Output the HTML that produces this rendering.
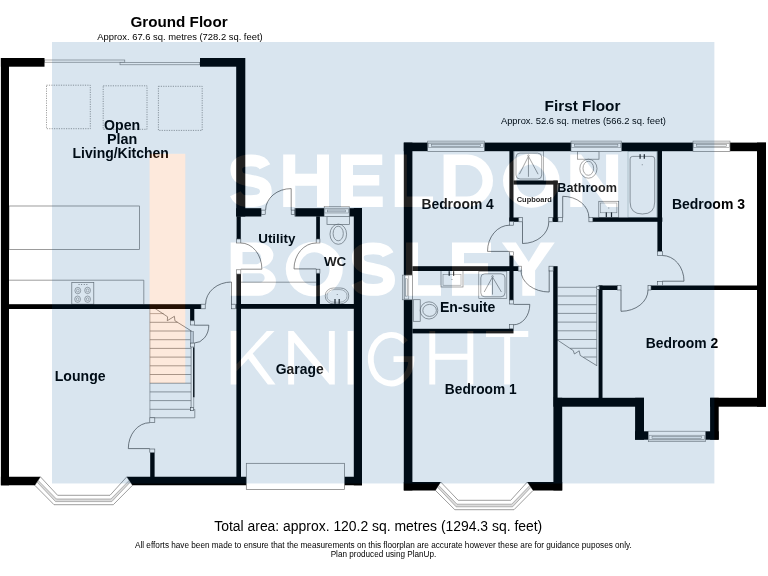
<!DOCTYPE html>
<html><head><meta charset="utf-8"><title>Floorplan</title>
<style>html,body{margin:0;padding:0;background:#fff;}body{width:768px;height:576px;overflow:hidden;font-family:"Liberation Sans",sans-serif;}svg{display:block;}svg{opacity:0.999}text{font-family:"Liberation Sans",sans-serif;fill:#000;}</style>
</head><body>
<svg width="768" height="576" viewBox="0 0 768 576">
<rect width="768" height="576" fill="#fff"/>
<g id="ground">
<rect x="44.40" y="60.00" width="80.40" height="2.20" fill="#fff" stroke="#737373" stroke-width="0.6" />
<rect x="120.00" y="62.60" width="79.80" height="2.20" fill="#fff" stroke="#737373" stroke-width="0.6" />
<rect x="46.50" y="85.20" width="43.80" height="43.50" fill="none" stroke="#777" stroke-width="0.7" stroke-dasharray="1.2 1.2"/>
<rect x="103.20" y="85.80" width="43.80" height="43.50" fill="none" stroke="#777" stroke-width="0.7" stroke-dasharray="1.2 1.2"/>
<rect x="158.40" y="86.30" width="43.80" height="44.10" fill="none" stroke="#777" stroke-width="0.7" stroke-dasharray="1.2 1.2"/>
<rect x="9.00" y="206.00" width="130.50" height="43.50" fill="none" stroke="#737373" stroke-width="0.7" />
<path d="M9,280.2 H143.8 V304.2" fill="none" stroke="#737373" stroke-width="0.7" />
<rect x="71.80" y="282.60" width="22.00" height="21.60" fill="none" stroke="#737373" stroke-width="0.7" />
<ellipse cx="77.8" cy="290.6" rx="2.9" ry="3.2" fill="none" stroke="#737373" stroke-width="0.6"/>
<ellipse cx="77.8" cy="290.6" rx="1.3" ry="1.5" fill="none" stroke="#737373" stroke-width="0.5"/>
<ellipse cx="87.6" cy="290.4" rx="2.9" ry="3.2" fill="none" stroke="#737373" stroke-width="0.6"/>
<ellipse cx="87.6" cy="290.4" rx="1.3" ry="1.5" fill="none" stroke="#737373" stroke-width="0.5"/>
<ellipse cx="77.6" cy="299.2" rx="2.9" ry="3.2" fill="none" stroke="#737373" stroke-width="0.6"/>
<ellipse cx="77.6" cy="299.2" rx="1.3" ry="1.5" fill="none" stroke="#737373" stroke-width="0.5"/>
<ellipse cx="87.6" cy="299.2" rx="2.9" ry="3.2" fill="none" stroke="#737373" stroke-width="0.6"/>
<ellipse cx="87.6" cy="299.2" rx="1.3" ry="1.5" fill="none" stroke="#737373" stroke-width="0.5"/>
<rect x="78.60" y="284.20" width="0.90" height="0.80" fill="#555" />
<rect x="81.20" y="284.20" width="0.90" height="0.80" fill="#555" />
<rect x="83.80" y="284.20" width="0.90" height="0.80" fill="#555" />
<rect x="86.40" y="284.20" width="0.90" height="0.80" fill="#555" />
<line x1="241.00" y1="282.20" x2="316.20" y2="282.20" stroke="#737373" stroke-width="0.7" />
<line x1="149.90" y1="308.80" x2="149.90" y2="417.80" stroke="#8f8f8f" stroke-width="0.7" />
<line x1="149.90" y1="313.60" x2="163.61" y2="313.60" stroke="#9a8f88" stroke-width="0.7" />
<line x1="149.90" y1="322.30" x2="177.49" y2="322.30" stroke="#737373" stroke-width="0.7" />
<line x1="149.90" y1="331.00" x2="191.10" y2="331.00" stroke="#737373" stroke-width="0.7" />
<line x1="149.90" y1="339.70" x2="191.10" y2="339.70" stroke="#737373" stroke-width="0.7" />
<line x1="149.90" y1="348.40" x2="191.10" y2="348.40" stroke="#737373" stroke-width="0.7" />
<line x1="149.90" y1="357.10" x2="191.10" y2="357.10" stroke="#737373" stroke-width="0.7" />
<line x1="149.90" y1="365.80" x2="191.10" y2="365.80" stroke="#737373" stroke-width="0.7" />
<line x1="149.90" y1="374.50" x2="191.10" y2="374.50" stroke="#737373" stroke-width="0.7" />
<line x1="149.90" y1="383.20" x2="191.10" y2="383.20" stroke="#737373" stroke-width="0.7" />
<line x1="149.90" y1="391.90" x2="191.10" y2="391.90" stroke="#737373" stroke-width="0.7" />
<line x1="149.90" y1="400.60" x2="191.10" y2="400.60" stroke="#737373" stroke-width="0.7" />
<line x1="149.90" y1="409.30" x2="191.10" y2="409.30" stroke="#737373" stroke-width="0.7" />
<path d="M149.90,305.00 L167.60,316.80 L167.30,320.70 L174.40,316.30 L174.90,320.70 L192.00,331.40" fill="none" stroke="#444" stroke-width="0.6" />
<line x1="191.10" y1="331.40" x2="191.10" y2="409.40" stroke="#737373" stroke-width="0.7" />
<rect x="190.40" y="331.40" width="3.20" height="11.70" fill="#d4d8dc" stroke="#737373" stroke-width="0.5" />
<path d="M149.9,417.8 H194.8 V409.4 H191.1" fill="none" stroke="#737373" stroke-width="0.7" />
<line x1="193.70" y1="397.30" x2="193.70" y2="407.60" stroke="#737373" stroke-width="0.6" />
<rect x="190.40" y="407.60" width="3.20" height="3.10" fill="#fff" stroke="#444" stroke-width="0.6" />
<rect x="193.10" y="347.30" width="1.40" height="50.00" fill="#000" />
<polygon points="40.40,476.80 57.60,495.30 110.00,495.30 126.80,476.80 132.50,485.30 113.30,504.70 54.00,504.70 34.80,485.30" fill="#fff" stroke="#737373" stroke-width="0.7"/>
<polygon points="37.00,482.00 55.50,501.60 111.80,501.60 130.30,482.00 129.20,480.40 110.90,499.00 56.40,499.00 38.10,480.40" fill="#dcdcdc" stroke="#737373" stroke-width="0.5"/>
<rect x="327.00" y="216.40" width="22.50" height="8.20" fill="none" stroke="#737373" stroke-width="0.7" />
<ellipse cx="338.3" cy="234.2" rx="8.3" ry="10.1" fill="none" stroke="#737373" stroke-width="0.7"/>
<ellipse cx="338.2" cy="233.5" rx="5.1" ry="7.3" fill="none" stroke="#737373" stroke-width="0.7"/>
<rect x="325.3" y="288.0" width="23.4" height="15.8" rx="8" ry="7.5" fill="none" stroke="#737373" stroke-width="0.7"/>
<rect x="327.0" y="289.6" width="20.0" height="12.6" rx="7" ry="6" fill="none" stroke="#737373" stroke-width="0.5"/>
<rect x="334.40" y="299.00" width="1.20" height="4.80" fill="#222" />
<rect x="338.60" y="299.00" width="1.20" height="4.80" fill="#222" />
<rect x="336.80" y="294.00" width="0.80" height="0.80" fill="#555" />
<rect x="0.90" y="58.00" width="8.10" height="427.30" fill="#000" />
<rect x="0.90" y="58.00" width="43.60" height="8.70" fill="#000" />
<rect x="200.00" y="58.00" width="45.00" height="8.70" fill="#000" />
<rect x="236.20" y="58.00" width="9.10" height="158.50" fill="#000" />
<rect x="236.20" y="208.20" width="23.80" height="8.30" fill="#000" />
<rect x="295.50" y="208.20" width="28.70" height="8.30" fill="#000" />
<rect x="349.20" y="208.20" width="12.80" height="8.30" fill="#000" />
<rect x="353.80" y="208.00" width="8.20" height="277.30" fill="#000" />
<polygon points="0.90,476.80 40.40,476.80 34.80,485.30 0.90,485.30" fill="#000" />
<polygon points="126.80,476.80 362.00,476.80 362.00,485.30 132.50,485.30" fill="#000" />
<rect x="9.00" y="304.20" width="192.00" height="4.80" fill="#000" />
<rect x="190.10" y="308.80" width="4.20" height="12.00" fill="#000" />
<rect x="236.60" y="216.30" width="4.20" height="22.70" fill="#000" />
<rect x="236.40" y="274.00" width="4.60" height="203.00" fill="#000" />
<rect x="236.40" y="304.00" width="117.60" height="4.80" fill="#000" />
<rect x="316.20" y="216.30" width="3.70" height="22.70" fill="#000" />
<rect x="316.20" y="273.20" width="3.70" height="31.00" fill="#000" />
<rect x="150.20" y="452.60" width="4.40" height="24.40" fill="#000" />
<rect x="324.20" y="206.50" width="25.00" height="10.00" fill="#fff" stroke="#777" stroke-width="0.6" />
<line x1="324.20" y1="208.20" x2="349.20" y2="208.20" stroke="#888" stroke-width="0.5" />
<rect x="324.90" y="208.90" width="23.60" height="4.10" fill="#fff" stroke="#777" stroke-width="0.5" />
<rect x="327.60" y="210.00" width="18.00" height="1.90" fill="#eceef0" stroke="#777" stroke-width="0.5" />
<rect x="246.30" y="463.30" width="98.20" height="26.10" fill="#fff" stroke="#737373" stroke-width="0.7" />
<rect x="201.00" y="304.20" width="4.20" height="4.60" fill="#fff" stroke="#555" stroke-width="0.6" />
<rect x="231.40" y="304.20" width="4.00" height="4.60" fill="#fff" stroke="#555" stroke-width="0.6" />
<path d="M231.50,304.20 L231.50,282.00 A25.90,22.20 0 0 0 205.60,304.20" fill="none" stroke="#444" stroke-width="0.7" />
<rect x="190.40" y="320.80" width="3.90" height="4.20" fill="#fff" stroke="#555" stroke-width="0.6" />
<rect x="190.50" y="343.10" width="3.80" height="3.90" fill="#fff" stroke="#555" stroke-width="0.6" />
<path d="M194.30,325.20 L208.80,325.20 A14.50,17.80 0 0 1 194.30,343.00" fill="none" stroke="#444" stroke-width="0.7" />
<rect x="149.80" y="417.80" width="5.00" height="4.90" fill="#fff" stroke="#555" stroke-width="0.6" />
<rect x="149.80" y="449.00" width="5.00" height="3.60" fill="#fff" stroke="#555" stroke-width="0.6" />
<path d="M149.80,448.60 L128.30,448.60 A21.50,25.90 0 0 1 149.80,422.70" fill="none" stroke="#444" stroke-width="0.7" />
<rect x="236.60" y="239.00" width="4.20" height="4.00" fill="#fff" stroke="#555" stroke-width="0.6" />
<rect x="236.60" y="269.80" width="4.20" height="4.20" fill="#fff" stroke="#555" stroke-width="0.6" />
<path d="M240.80,269.20 L261.90,269.20 A21.10,26.20 0 0 0 240.80,243.00" fill="none" stroke="#444" stroke-width="0.7" />
<rect x="316.20" y="239.00" width="3.70" height="4.00" fill="#fff" stroke="#555" stroke-width="0.6" />
<rect x="316.20" y="269.20" width="3.70" height="4.00" fill="#fff" stroke="#555" stroke-width="0.6" />
<path d="M316.20,268.90 L294.00,268.90 A22.20,25.90 0 0 1 316.20,243.00" fill="none" stroke="#444" stroke-width="0.7" />
<rect x="260.00" y="208.20" width="1.30" height="8.30" fill="#000" />
<rect x="294.70" y="208.20" width="0.80" height="8.30" fill="#000" />
<rect x="261.30" y="210.10" width="3.90" height="4.30" fill="#fff" stroke="#555" stroke-width="0.6" />
<rect x="291.20" y="210.10" width="3.50" height="4.30" fill="#fff" stroke="#555" stroke-width="0.6" />
<path d="M291.20,210.10 L291.20,188.60 A25.60,21.50 0 0 0 265.60,210.10" fill="none" stroke="#444" stroke-width="0.7" />
<text x="130.54" y="27.00" font-size="15.19" font-weight="bold" textLength="97.06" lengthAdjust="spacingAndGlyphs">Ground Floor</text>
<text x="97.20" y="40.30" font-size="9.39" font-weight="normal" textLength="165.46" lengthAdjust="spacingAndGlyphs">Approx. 67.6 sq. metres (728.2 sq. feet)</text>
<text x="104.09" y="129.80" font-size="14.12" font-weight="bold" textLength="36.09" lengthAdjust="spacingAndGlyphs">Open</text>
<text x="106.93" y="143.80" font-size="14.33" font-weight="bold" textLength="30.26" lengthAdjust="spacingAndGlyphs">Plan</text>
<text x="72.55" y="157.80" font-size="13.99" font-weight="bold" textLength="96.35" lengthAdjust="spacingAndGlyphs">Living/Kitchen</text>
<text x="54.74" y="381.00" font-size="14.09" font-weight="bold" textLength="50.86" lengthAdjust="spacingAndGlyphs">Lounge</text>
<text x="258.23" y="242.50" font-size="13.39" font-weight="bold" textLength="37.21" lengthAdjust="spacingAndGlyphs">Utility</text>
<text x="323.90" y="266.40" font-size="13.42" font-weight="bold" textLength="22.35" lengthAdjust="spacingAndGlyphs">WC</text>
<text x="275.81" y="374.10" font-size="13.88" font-weight="bold" textLength="47.84" lengthAdjust="spacingAndGlyphs">Garage</text>
</g>
<g id="first">
<rect x="514.00" y="150.90" width="29.50" height="29.90" fill="none" stroke="#737373" stroke-width="0.6"/>
<rect x="516.00" y="153.10" width="25.70" height="25.90" rx="4" fill="none" stroke="#737373" stroke-width="0.7"/>
<path d="M528.45,156.30 L519.40,174.20 M528.45,156.30 L538.10,174.20 M528.45,157.30 V176.80" fill="none" stroke="#555" stroke-width="0.6" />
<circle cx="528.45" cy="155.70" r="0.8" fill="#fff" stroke="#555" stroke-width="0.5"/>
<rect x="478.80" y="271.60" width="28.00" height="27.00" fill="none" stroke="#737373" stroke-width="0.6"/>
<rect x="480.80" y="273.80" width="24.20" height="23.00" rx="4" fill="none" stroke="#737373" stroke-width="0.7"/>
<path d="M492.50,277.00 L484.20,292.00 M492.50,277.00 L501.40,292.00 M492.50,278.00 V294.60" fill="none" stroke="#555" stroke-width="0.6" />
<circle cx="492.50" cy="276.40" r="0.8" fill="#fff" stroke="#555" stroke-width="0.5"/>
<rect x="577.40" y="151.20" width="21.60" height="8.00" fill="none" stroke="#737373" stroke-width="0.7" />
<ellipse cx="588.4" cy="168.7" rx="8.6" ry="9.5" fill="none" stroke="#737373" stroke-width="0.7"/>
<ellipse cx="588.3" cy="168.3" rx="5.3" ry="7.0" fill="none" stroke="#737373" stroke-width="0.7"/>
<rect x="628.00" y="151.20" width="28.90" height="66.40" fill="none" stroke="#9aa" stroke-width="0.5" />
<path d="M630.1,159 Q630.1,156.4 632.7,156.4 H652.1 Q654.7,156.4 654.7,159 V202 Q654.7,214 642.4,214 Q630.1,214 630.1,202 Z" fill="none" stroke="#737373" stroke-width="0.7"/>
<rect x="639.50" y="154.20" width="1.20" height="4.60" fill="#222" />
<rect x="643.70" y="154.20" width="1.20" height="4.60" fill="#222" />
<rect x="641.80" y="164.40" width="0.80" height="0.80" fill="#555" />
<rect x="598.80" y="201.30" width="19.90" height="16.30" fill="none" stroke="#737373" stroke-width="0.7" />
<rect x="600.60" y="203.00" width="16.30" height="9.80" fill="none" stroke="#737373" stroke-width="0.5" />
<rect x="605.70" y="212.40" width="1.20" height="4.80" fill="#222" />
<rect x="610.90" y="212.40" width="1.20" height="4.80" fill="#222" />
<rect x="608.40" y="207.60" width="0.80" height="0.80" fill="#555" />
<rect x="441.00" y="270.50" width="22.00" height="16.50" fill="none" stroke="#737373" stroke-width="0.7" />
<rect x="443.00" y="274.60" width="18.00" height="10.60" fill="none" stroke="#737373" stroke-width="0.5" />
<rect x="448.60" y="271.20" width="1.20" height="4.60" fill="#222" />
<rect x="453.00" y="271.20" width="1.20" height="4.60" fill="#222" />
<rect x="451.60" y="279.00" width="0.80" height="0.80" fill="#555" />
<rect x="413.30" y="299.70" width="6.90" height="21.60" fill="none" stroke="#737373" stroke-width="0.7" />
<ellipse cx="429.0" cy="310.4" rx="8.8" ry="8.6" fill="none" stroke="#737373" stroke-width="0.7"/>
<ellipse cx="429.6" cy="310.4" rx="6.8" ry="6.0" fill="none" stroke="#737373" stroke-width="0.7"/>
<line x1="596.70" y1="290.00" x2="596.70" y2="366.00" stroke="#737373" stroke-width="0.7" />
<line x1="557.50" y1="287.30" x2="596.70" y2="287.30" stroke="#737373" stroke-width="0.7" />
<line x1="557.50" y1="296.00" x2="596.70" y2="296.00" stroke="#737373" stroke-width="0.7" />
<line x1="557.50" y1="304.70" x2="596.70" y2="304.70" stroke="#737373" stroke-width="0.7" />
<line x1="557.50" y1="313.40" x2="596.70" y2="313.40" stroke="#737373" stroke-width="0.7" />
<line x1="557.50" y1="322.10" x2="596.70" y2="322.10" stroke="#737373" stroke-width="0.7" />
<line x1="557.50" y1="330.80" x2="596.70" y2="330.80" stroke="#737373" stroke-width="0.7" />
<line x1="557.50" y1="339.50" x2="596.70" y2="339.50" stroke="#737373" stroke-width="0.7" />
<line x1="570.16" y1="348.30" x2="596.70" y2="348.30" stroke="#737373" stroke-width="0.7" />
<line x1="583.50" y1="357.00" x2="596.70" y2="357.00" stroke="#737373" stroke-width="0.7" />
<path d="M556.5,339.4 L573.3,350.6 L574.4,354.0 L579.2,350.8 L580.2,355.4 L596.7,365.6" fill="none" stroke="#444" stroke-width="0.6" />
<polygon points="440.70,482.00 458.20,500.30 510.70,500.30 527.30,482.00 533.20,490.30 514.00,509.70 454.80,509.70 435.30,490.30" fill="#fff" stroke="#737373" stroke-width="0.7"/>
<polygon points="437.40,487.00 456.10,506.80 512.60,506.80 531.20,487.00 530.00,485.30 511.70,504.20 457.00,504.20 438.60,485.30" fill="#dcdcdc" stroke="#737373" stroke-width="0.5"/>
<rect x="403.80" y="142.60" width="8.60" height="347.80" fill="#000" />
<rect x="403.80" y="142.60" width="362.20" height="8.60" fill="#000" />
<rect x="757.00" y="142.60" width="9.00" height="264.10" fill="#000" />
<rect x="509.40" y="151.00" width="4.10" height="70.40" fill="#000" />
<rect x="509.40" y="217.50" width="9.40" height="4.30" fill="#000" />
<rect x="513.40" y="180.60" width="44.30" height="4.00" fill="#000" />
<rect x="553.30" y="180.60" width="4.40" height="41.20" fill="#000" />
<rect x="552.60" y="217.50" width="5.40" height="4.30" fill="#000" />
<rect x="592.80" y="217.50" width="69.50" height="4.30" fill="#000" />
<rect x="657.40" y="151.00" width="4.60" height="100.30" fill="#000" />
<rect x="509.40" y="255.70" width="4.10" height="44.30" fill="#000" />
<rect x="412.40" y="266.20" width="105.80" height="4.80" fill="#000" />
<rect x="412.40" y="328.80" width="101.10" height="4.60" fill="#000" />
<rect x="553.20" y="266.20" width="4.40" height="131.80" fill="#000" />
<rect x="553.40" y="397.80" width="8.80" height="92.60" fill="#000" />
<polygon points="403.80,482.00 440.70,482.00 435.30,490.40 403.80,490.40" fill="#000" />
<polygon points="527.30,482.00 562.20,482.00 562.20,490.40 533.20,490.40" fill="#000" />
<rect x="553.40" y="397.80" width="90.60" height="8.90" fill="#000" />
<rect x="635.10" y="397.80" width="8.90" height="41.90" fill="#000" />
<rect x="635.00" y="431.30" width="13.40" height="8.40" fill="#000" />
<rect x="705.20" y="431.30" width="13.50" height="8.40" fill="#000" />
<rect x="710.10" y="397.80" width="8.60" height="41.90" fill="#000" />
<rect x="710.10" y="397.80" width="55.90" height="8.90" fill="#000" />
<rect x="598.60" y="285.50" width="3.90" height="112.50" fill="#000" />
<rect x="598.60" y="285.50" width="18.70" height="4.50" fill="#000" />
<rect x="651.00" y="285.50" width="106.50" height="4.50" fill="#000" />
<rect x="427.70" y="141.10" width="56.70" height="10.30" fill="#fff" stroke="#777" stroke-width="0.6" />
<line x1="427.70" y1="142.80" x2="484.40" y2="142.80" stroke="#888" stroke-width="0.5" />
<rect x="428.40" y="143.40" width="55.20" height="4.20" fill="#fff" stroke="#777" stroke-width="0.5" />
<rect x="431.40" y="144.50" width="49.30" height="1.90" fill="#eceef0" stroke="#777" stroke-width="0.5" />
<rect x="571.00" y="141.10" width="50.60" height="10.30" fill="#fff" stroke="#777" stroke-width="0.6" />
<line x1="571.00" y1="142.80" x2="621.60" y2="142.80" stroke="#888" stroke-width="0.5" />
<rect x="571.70" y="143.40" width="49.10" height="4.20" fill="#fff" stroke="#777" stroke-width="0.5" />
<rect x="574.70" y="144.50" width="43.20" height="1.90" fill="#eceef0" stroke="#777" stroke-width="0.5" />
<rect x="693.00" y="141.10" width="37.00" height="10.30" fill="#fff" stroke="#777" stroke-width="0.6" />
<line x1="693.00" y1="142.80" x2="730.00" y2="142.80" stroke="#888" stroke-width="0.5" />
<rect x="693.70" y="143.40" width="35.50" height="4.20" fill="#fff" stroke="#777" stroke-width="0.5" />
<rect x="696.70" y="144.50" width="29.60" height="1.90" fill="#eceef0" stroke="#777" stroke-width="0.5" />
<rect x="402.30" y="275.10" width="10.10" height="24.70" fill="#fff" stroke="#777" stroke-width="0.6" />
<line x1="404.00" y1="275.10" x2="404.00" y2="299.80" stroke="#888" stroke-width="0.5" />
<rect x="404.60" y="275.80" width="4.20" height="23.20" fill="#fff" stroke="#777" stroke-width="0.5" />
<rect x="405.70" y="278.80" width="1.90" height="17.30" fill="#eceef0" stroke="#777" stroke-width="0.5" />
<rect x="648.30" y="431.20" width="57.10" height="10.50" fill="#fff" stroke="#777" stroke-width="0.6" />
<line x1="648.30" y1="440.00" x2="705.40" y2="440.00" stroke="#888" stroke-width="0.5" />
<rect x="649.00" y="435.20" width="55.60" height="4.20" fill="#fff" stroke="#777" stroke-width="0.5" />
<rect x="652.00" y="436.40" width="49.70" height="1.90" fill="#eceef0" stroke="#777" stroke-width="0.5" />
<rect x="509.40" y="221.40" width="4.10" height="3.80" fill="#fff" stroke="#555" stroke-width="0.6" />
<rect x="509.40" y="251.80" width="4.10" height="3.90" fill="#fff" stroke="#555" stroke-width="0.6" />
<path d="M509.40,251.40 L487.50,251.40 A22.10,26.20 0 0 1 509.60,225.20" fill="none" stroke="#444" stroke-width="0.7" />
<rect x="518.80" y="217.50" width="3.70" height="4.30" fill="#fff" stroke="#555" stroke-width="0.6" />
<rect x="548.80" y="217.50" width="3.80" height="4.30" fill="#fff" stroke="#555" stroke-width="0.6" />
<path d="M522.50,221.80 L522.50,243.50 A26.30,21.70 0 0 0 548.80,221.80" fill="none" stroke="#444" stroke-width="0.7" />
<rect x="558.00" y="217.50" width="4.50" height="4.30" fill="#fff" stroke="#555" stroke-width="0.6" />
<rect x="588.90" y="217.50" width="3.90" height="4.30" fill="#fff" stroke="#555" stroke-width="0.6" />
<path d="M562.70,217.50 L562.70,196.30 A26.20,21.20 0 0 1 588.90,217.50" fill="none" stroke="#444" stroke-width="0.7" />
<rect x="518.20" y="266.20" width="3.20" height="4.80" fill="#fff" stroke="#555" stroke-width="0.6" />
<rect x="549.00" y="266.20" width="4.20" height="4.80" fill="#fff" stroke="#555" stroke-width="0.6" />
<path d="M549.20,270.50 L549.20,292.00 A28.20,21.50 0 0 1 521.00,270.50" fill="none" stroke="#444" stroke-width="0.7" />
<rect x="509.40" y="300.00" width="4.10" height="4.00" fill="#fff" stroke="#555" stroke-width="0.6" />
<rect x="509.40" y="324.60" width="4.10" height="4.20" fill="#fff" stroke="#555" stroke-width="0.6" />
<path d="M513.50,304.40 L529.80,304.40 A16.30,20.40 0 0 1 513.50,324.80" fill="none" stroke="#444" stroke-width="0.7" />
<rect x="657.30" y="251.30" width="5.00" height="4.20" fill="#fff" stroke="#555" stroke-width="0.6" />
<rect x="657.30" y="281.30" width="5.00" height="4.20" fill="#fff" stroke="#555" stroke-width="0.6" />
<path d="M662.30,281.20 L684.00,281.20 A21.70,25.70 0 0 0 662.30,255.50" fill="none" stroke="#444" stroke-width="0.7" />
<rect x="617.30" y="285.50" width="3.70" height="4.50" fill="#fff" stroke="#555" stroke-width="0.6" />
<rect x="648.00" y="285.50" width="3.00" height="4.50" fill="#fff" stroke="#555" stroke-width="0.6" />
<path d="M621.00,290.00 L621.00,311.30 A27.00,21.30 0 0 0 648.00,290.00" fill="none" stroke="#444" stroke-width="0.7" />
<rect x="596.70" y="286.20" width="2.70" height="3.10" fill="#fff" stroke="#555" stroke-width="0.6" />
<text x="544.55" y="110.90" font-size="15.34" font-weight="bold" textLength="75.85" lengthAdjust="spacingAndGlyphs">First Floor</text>
<text x="500.90" y="123.60" font-size="9.36" font-weight="normal" textLength="164.96" lengthAdjust="spacingAndGlyphs">Approx. 52.6 sq. metres (566.2 sq. feet)</text>
<text x="421.46" y="209.00" font-size="13.83" font-weight="bold" textLength="72.27" lengthAdjust="spacingAndGlyphs">Bedroom 4</text>
<text x="516.73" y="201.70" font-size="7.46" font-weight="bold" textLength="35.21" lengthAdjust="spacingAndGlyphs">Cupboard</text>
<text x="557.35" y="191.70" font-size="12.63" font-weight="bold" textLength="59.66" lengthAdjust="spacingAndGlyphs">Bathroom</text>
<text x="671.95" y="208.60" font-size="13.99" font-weight="bold" textLength="73.08" lengthAdjust="spacingAndGlyphs">Bedroom 3</text>
<text x="439.95" y="311.50" font-size="14.05" font-weight="bold" textLength="55.44" lengthAdjust="spacingAndGlyphs">En-suite</text>
<text x="444.87" y="394.10" font-size="13.74" font-weight="bold" textLength="71.75" lengthAdjust="spacingAndGlyphs">Bedroom 1</text>
<text x="645.76" y="347.60" font-size="13.88" font-weight="bold" textLength="72.51" lengthAdjust="spacingAndGlyphs">Bedroom 2</text>
</g>

<defs>
<g id="LT" fill="#fff"><g id="L">
<path d="M264.90,166.71 C261.90,160.40 254.90,160.40 250.90,160.40 C237.90,160.40 235.90,166.00 236.40,170.58 C236.90,179.25 244.90,179.55 250.90,180.75 C258.90,182.35 265.90,183.25 265.90,191.43 C265.90,197.03 261.90,201.10 250.90,201.10 C243.90,201.10 238.90,201.10 235.40,193.77" fill="none" stroke="#fff" stroke-width="11.8" stroke-linecap="butt"/>
<path d="M283.2,154.5h12.0V173.65H317.0V154.5h12.0V207.0h-12.0V185.85H295.2V207.0h-12.0z"/>
<path d="M341,154.5H382.2v10.5H353.0V175.0H379.2v10.5H353.0V196.5H382.7V207.0H341z"/>
<path d="M394.8,154.5h12.0V196.5H433V207.0H394.8z"/>
<path fill-rule="evenodd" d="M443.6,154.5H466.75A26.25,26.25 0 0 1 466.75,207.0H443.6z M455.6,165.0V196.5H466.75A15.75,15.75 0 0 0 466.75,165.0z"/>
<path fill-rule="evenodd" d="M503.0,180.75A28.30000000000001,26.95 0 1 1 559.6,180.75A28.30000000000001,26.95 0 1 1 503.0,180.75z M516.4,180.75A14.900000000000011,16.35 0 1 0 546.2,180.75A14.900000000000011,16.35 0 1 0 516.4,180.75z"/>
<path d="M570.3,154.5h10.8L606.1,188.0V154.5h12.0V207.0h-10.8L582.3,173.5V207.0h-12.0z"/>
<path fill-rule="evenodd" d="M230.7,242.4H256.0A17.4,13 0 0 1 262.0,267.6A18,14.3 0 0 1 259.0,295.8H230.7z M242.5,252.1H256.7A4.6,6.1 0 0 1 256.7,264.3H242.5z M242.5,273.2H259.3A5.4,4.7 0 0 1 259.3,282.6H242.5z"/>
<path fill-rule="evenodd" d="M285.8,269.1A28.5,27.400000000000002 0 1 1 342.8,269.1A28.5,27.400000000000002 0 1 1 285.8,269.1z M299.0,269.1A15.3,16.800000000000004 0 1 0 329.6,269.1A15.3,16.800000000000004 0 1 0 299.0,269.1z"/>
<path d="M388.10,254.75 C385.10,248.30 377.25,248.30 373.25,248.30 C359.40,248.30 357.40,254.02 357.90,258.70 C358.40,267.60 367.25,267.90 373.25,269.10 C381.25,270.70 389.10,271.60 389.10,280.02 C389.10,285.74 385.10,289.90 373.25,289.90 C366.25,289.90 360.40,289.90 356.90,282.41" fill="none" stroke="#fff" stroke-width="11.8" stroke-linecap="butt"/>
<path d="M406,242.4h12.0V285.3H441V295.8H406z"/>
<path d="M452,242.4H491v10.5H464.0V263.35H488v10.5H464.0V285.3H491.5V295.8H452z"/>
<path d="M501.9,242.4h14.0L528.6999999999999,261.9L540.7,242.4h14.0L535.0999999999999,270.4V295.8h-12.8V270.4z"/>
<path d="M230.7,331.0h5.9V364.17L266.83,331.0h7.670000000000001L252.65,353.47L275.5,384.5h-7.670000000000001L248.225,358.82L236.6,371.125V384.5h-5.9z"/>
<path d="M288.2,331.0h5.3100000000000005L328.90000000000003,373.125V331.0h5.9V384.5h-5.3100000000000005L294.09999999999997,342.375V384.5h-5.9z"/>
<path d="M347.6,331.0H353.5V384.5H347.6z"/>
<path d="M405.60,342.19A20.30,24.20 0 1 0 411.35,360.75V359.10H393.55" fill="none" stroke="#fff" stroke-width="5.9"/>
<path d="M429.3,331.0h5.9V353.8H467.40000000000003V331.0h5.9V384.5h-5.9V359.7H435.2V384.5h-5.9z"/>
<path d="M486,331.0H528.2v5.9H510.09999999999997V384.5h-5.9V336.9H486z"/>
</g></g>
<mask id="m" maskUnits="userSpaceOnUse" x="0" y="0" width="768" height="576">
<rect x="52" y="42.0" width="662.6" height="441.7" fill="#fff"/>
<rect x="149.6" y="153.8" width="35.7" height="229.3" fill="#000"/>
<g style="--c:#000" class="blk"><g fill="#000">
<path d="M264.90,166.71 C261.90,160.40 254.90,160.40 250.90,160.40 C237.90,160.40 235.90,166.00 236.40,170.58 C236.90,179.25 244.90,179.55 250.90,180.75 C258.90,182.35 265.90,183.25 265.90,191.43 C265.90,197.03 261.90,201.10 250.90,201.10 C243.90,201.10 238.90,201.10 235.40,193.77" fill="none" stroke="#000" stroke-width="11.8" stroke-linecap="butt"/>
<path d="M283.2,154.5h12.0V173.65H317.0V154.5h12.0V207.0h-12.0V185.85H295.2V207.0h-12.0z"/>
<path d="M341,154.5H382.2v10.5H353.0V175.0H379.2v10.5H353.0V196.5H382.7V207.0H341z"/>
<path d="M394.8,154.5h12.0V196.5H433V207.0H394.8z"/>
<path fill-rule="evenodd" d="M443.6,154.5H466.75A26.25,26.25 0 0 1 466.75,207.0H443.6z M455.6,165.0V196.5H466.75A15.75,15.75 0 0 0 466.75,165.0z"/>
<path fill-rule="evenodd" d="M503.0,180.75A28.30000000000001,26.95 0 1 1 559.6,180.75A28.30000000000001,26.95 0 1 1 503.0,180.75z M516.4,180.75A14.900000000000011,16.35 0 1 0 546.2,180.75A14.900000000000011,16.35 0 1 0 516.4,180.75z"/>
<path d="M570.3,154.5h10.8L606.1,188.0V154.5h12.0V207.0h-10.8L582.3,173.5V207.0h-12.0z"/>
<path fill-rule="evenodd" d="M230.7,242.4H256.0A17.4,13 0 0 1 262.0,267.6A18,14.3 0 0 1 259.0,295.8H230.7z M242.5,252.1H256.7A4.6,6.1 0 0 1 256.7,264.3H242.5z M242.5,273.2H259.3A5.4,4.7 0 0 1 259.3,282.6H242.5z"/>
<path fill-rule="evenodd" d="M285.8,269.1A28.5,27.400000000000002 0 1 1 342.8,269.1A28.5,27.400000000000002 0 1 1 285.8,269.1z M299.0,269.1A15.3,16.800000000000004 0 1 0 329.6,269.1A15.3,16.800000000000004 0 1 0 299.0,269.1z"/>
<path d="M388.10,254.75 C385.10,248.30 377.25,248.30 373.25,248.30 C359.40,248.30 357.40,254.02 357.90,258.70 C358.40,267.60 367.25,267.90 373.25,269.10 C381.25,270.70 389.10,271.60 389.10,280.02 C389.10,285.74 385.10,289.90 373.25,289.90 C366.25,289.90 360.40,289.90 356.90,282.41" fill="none" stroke="#000" stroke-width="11.8" stroke-linecap="butt"/>
<path d="M406,242.4h12.0V285.3H441V295.8H406z"/>
<path d="M452,242.4H491v10.5H464.0V263.35H488v10.5H464.0V285.3H491.5V295.8H452z"/>
<path d="M501.9,242.4h14.0L528.6999999999999,261.9L540.7,242.4h14.0L535.0999999999999,270.4V295.8h-12.8V270.4z"/>
<path d="M230.7,331.0h5.9V364.17L266.83,331.0h7.670000000000001L252.65,353.47L275.5,384.5h-7.670000000000001L248.225,358.82L236.6,371.125V384.5h-5.9z"/>
<path d="M288.2,331.0h5.3100000000000005L328.90000000000003,373.125V331.0h5.9V384.5h-5.3100000000000005L294.09999999999997,342.375V384.5h-5.9z"/>
<path d="M347.6,331.0H353.5V384.5H347.6z"/>
<path d="M405.60,342.19A20.30,24.20 0 1 0 411.35,360.75V359.10H393.55" fill="none" stroke="#000" stroke-width="5.9"/>
<path d="M429.3,331.0h5.9V353.8H467.40000000000003V331.0h5.9V384.5h-5.9V359.7H435.2V384.5h-5.9z"/>
<path d="M486,331.0H528.2v5.9H510.09999999999997V384.5h-5.9V336.9H486z"/>
</g></g>
</mask>
</defs>
<rect x="52" y="42.0" width="662.6" height="441.7" fill="rgb(2,82,148)" fill-opacity="0.15" mask="url(#m)"/>
<rect x="149.6" y="153.8" width="35.7" height="229.3" fill="rgb(241,108,22)" fill-opacity="0.15"/>
<g fill="#fff" opacity="0.13"><g>
<path d="M264.90,166.71 C261.90,160.40 254.90,160.40 250.90,160.40 C237.90,160.40 235.90,166.00 236.40,170.58 C236.90,179.25 244.90,179.55 250.90,180.75 C258.90,182.35 265.90,183.25 265.90,191.43 C265.90,197.03 261.90,201.10 250.90,201.10 C243.90,201.10 238.90,201.10 235.40,193.77" fill="none" stroke="#fff" stroke-width="11.8" stroke-linecap="butt"/>
<path d="M283.2,154.5h12.0V173.65H317.0V154.5h12.0V207.0h-12.0V185.85H295.2V207.0h-12.0z"/>
<path d="M341,154.5H382.2v10.5H353.0V175.0H379.2v10.5H353.0V196.5H382.7V207.0H341z"/>
<path d="M394.8,154.5h12.0V196.5H433V207.0H394.8z"/>
<path fill-rule="evenodd" d="M443.6,154.5H466.75A26.25,26.25 0 0 1 466.75,207.0H443.6z M455.6,165.0V196.5H466.75A15.75,15.75 0 0 0 466.75,165.0z"/>
<path fill-rule="evenodd" d="M503.0,180.75A28.30000000000001,26.95 0 1 1 559.6,180.75A28.30000000000001,26.95 0 1 1 503.0,180.75z M516.4,180.75A14.900000000000011,16.35 0 1 0 546.2,180.75A14.900000000000011,16.35 0 1 0 516.4,180.75z"/>
<path d="M570.3,154.5h10.8L606.1,188.0V154.5h12.0V207.0h-10.8L582.3,173.5V207.0h-12.0z"/>
<path fill-rule="evenodd" d="M230.7,242.4H256.0A17.4,13 0 0 1 262.0,267.6A18,14.3 0 0 1 259.0,295.8H230.7z M242.5,252.1H256.7A4.6,6.1 0 0 1 256.7,264.3H242.5z M242.5,273.2H259.3A5.4,4.7 0 0 1 259.3,282.6H242.5z"/>
<path fill-rule="evenodd" d="M285.8,269.1A28.5,27.400000000000002 0 1 1 342.8,269.1A28.5,27.400000000000002 0 1 1 285.8,269.1z M299.0,269.1A15.3,16.800000000000004 0 1 0 329.6,269.1A15.3,16.800000000000004 0 1 0 299.0,269.1z"/>
<path d="M388.10,254.75 C385.10,248.30 377.25,248.30 373.25,248.30 C359.40,248.30 357.40,254.02 357.90,258.70 C358.40,267.60 367.25,267.90 373.25,269.10 C381.25,270.70 389.10,271.60 389.10,280.02 C389.10,285.74 385.10,289.90 373.25,289.90 C366.25,289.90 360.40,289.90 356.90,282.41" fill="none" stroke="#fff" stroke-width="11.8" stroke-linecap="butt"/>
<path d="M406,242.4h12.0V285.3H441V295.8H406z"/>
<path d="M452,242.4H491v10.5H464.0V263.35H488v10.5H464.0V285.3H491.5V295.8H452z"/>
<path d="M501.9,242.4h14.0L528.6999999999999,261.9L540.7,242.4h14.0L535.0999999999999,270.4V295.8h-12.8V270.4z"/>
<path d="M230.7,331.0h5.9V364.17L266.83,331.0h7.670000000000001L252.65,353.47L275.5,384.5h-7.670000000000001L248.225,358.82L236.6,371.125V384.5h-5.9z"/>
<path d="M288.2,331.0h5.3100000000000005L328.90000000000003,373.125V331.0h5.9V384.5h-5.3100000000000005L294.09999999999997,342.375V384.5h-5.9z"/>
<path d="M347.6,331.0H353.5V384.5H347.6z"/>
<path d="M405.60,342.19A20.30,24.20 0 1 0 411.35,360.75V359.10H393.55" fill="none" stroke="#fff" stroke-width="5.9"/>
<path d="M429.3,331.0h5.9V353.8H467.40000000000003V331.0h5.9V384.5h-5.9V359.7H435.2V384.5h-5.9z"/>
<path d="M486,331.0H528.2v5.9H510.09999999999997V384.5h-5.9V336.9H486z"/>
</g></g>
<text x="214.25" y="531.00" font-size="13.92" font-weight="normal" textLength="328.01" lengthAdjust="spacingAndGlyphs">Total area: approx. 120.2 sq. metres (1294.3 sq. feet)</text>
<text x="135.00" y="547.50" font-size="8.19" font-weight="normal" textLength="496.75" lengthAdjust="spacingAndGlyphs">All efforts have been made to ensure that the measurements on this floorplan are accurate however these are for guidance puposes only.</text>
<text x="330.69" y="556.80" font-size="8.15" font-weight="normal" textLength="105.55" lengthAdjust="spacingAndGlyphs">Plan produced using PlanUp.</text>
</svg></body></html>
